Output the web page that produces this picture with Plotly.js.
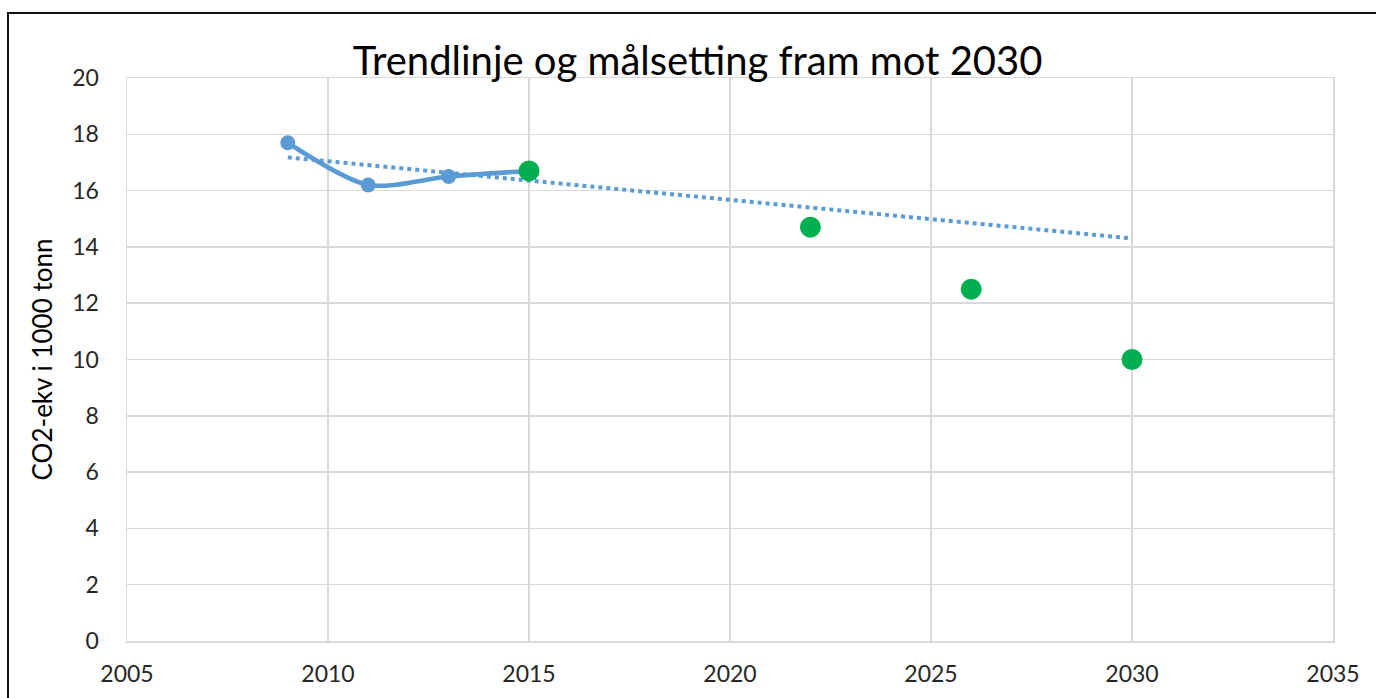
<!DOCTYPE html>
<html><head><meta charset="utf-8">
<script src="https://cdn.plot.ly/plotly-3.0.1.min.js"></script>
<style>
html,body{margin:0;padding:0;background:#fff;overflow:hidden;}
#frame{position:absolute;left:7px;top:12px;width:1400px;height:720px;border:2px solid #111;box-sizing:border-box;pointer-events:none;z-index:10;}
#chart{position:absolute;left:0;top:0;width:1376px;height:698px;}
</style></head>
<body>
<div id="chart"></div>
<div id="frame"></div>
<script>
const histYears = [2009, 2011, 2013, 2015];
const histValues = [17.7, 16.2, 16.5, 16.7];
const targetYears = [2015, 2022, 2026, 2030];
const targetValues = [16.7, 14.7, 12.5, 10.0];
const trendYears = [2009, 2030];
const trendValues = [17.18, 14.3];
const xTicks = [2005, 2010, 2015, 2020, 2025, 2030, 2035];
const yTicks = [0, 2, 4, 6, 8, 10, 12, 14, 16, 18, 20];

const fontFam = 'Lato, "Open Sans", sans-serif';
const traces = [
  {x: trendYears, y: trendValues, mode: 'lines', line: {color: '#5b9bd5', width: 4, dash: 'dot'}, hoverinfo: 'skip'},
  {x: histYears, y: histValues, mode: 'lines+markers', line: {color: '#5b9bd5', width: 4.5, shape: 'spline', smoothing: 0.8}, marker: {color: '#5b9bd5', size: 15}},
  {x: targetYears, y: targetValues, mode: 'markers', marker: {color: '#00b050', size: 21}}
];
const layout = {
  width: 1376, height: 698,
  paper_bgcolor: '#fff', plot_bgcolor: '#fff',
  showlegend: false,
  margin: {l: 127, r: 43, t: 78, b: 57},
  title: {text: 'Trendlinje og målsetting fram mot 2030', font: {family: fontFam, size: 40, color: '#000'}, x: 0.507, xanchor: 'center', y: 0.912, yanchor: 'middle'},
  xaxis: {range: [2005, 2035], tickvals: xTicks, ticktext: xTicks.map(String), showgrid: true, gridcolor: '#d9d9d9', gridwidth: 1.5,
    showline: true, linecolor: '#d9d9d9', linewidth: 1.5, mirror: true, zeroline: false, ticks: '', ticklabelstandoff: 12,
    tickfont: {family: fontFam, size: 23, color: '#262626'}},
  yaxis: {range: [0, 20], tickvals: yTicks, ticktext: yTicks.map(String), showgrid: true, gridcolor: '#d9d9d9', gridwidth: 1.5,
    showline: true, linecolor: '#d9d9d9', linewidth: 1.5, mirror: true, zeroline: false, ticks: '', ticklabelstandoff: 22,
    tickfont: {family: fontFam, size: 23, color: '#262626'},
    title: {text: 'CO2-ekv i 1000 tonn', font: {family: fontFam, size: 26, color: '#000'}, standoff: 12}}
};
Plotly.newPlot('chart', traces, layout, {displayModeBar: false, staticPlot: true});
</script>
</body></html>
